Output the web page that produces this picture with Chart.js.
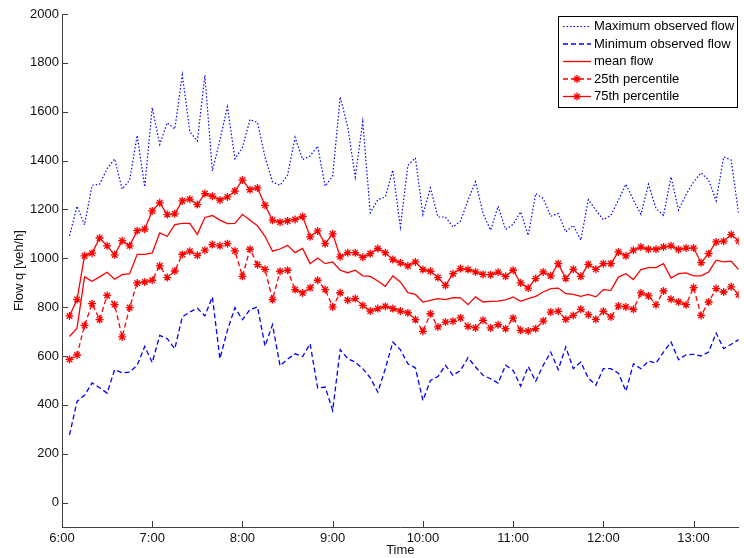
<!DOCTYPE html>
<html>
<head>
<meta charset="utf-8">
<script src="https://cdn.jsdelivr.net/npm/chart.js@4/dist/chart.umd.min.js"></script>
<style>
  html, body { margin: 0; background: #fff; }
  #wrap { width: 744px; height: 558px; }
</style>
</head>
<body>
<div id="wrap"><canvas id="c" width="744" height="558"></canvas></div>
<script>
// 5-minute intervals
const times = [
  '6:05','6:10','6:15','6:20','6:25','6:30','6:35','6:40','6:45','6:50','6:55','7:00',
  '7:05','7:10','7:15','7:20','7:25','7:30','7:35','7:40','7:45','7:50','7:55','8:00',
  '8:05','8:10','8:15','8:20','8:25','8:30','8:35','8:40','8:45','8:50','8:55','9:00',
  '9:05','9:10','9:15','9:20','9:25','9:30','9:35','9:40','9:45','9:50','9:55','10:00',
  '10:05','10:10','10:15','10:20','10:25','10:30','10:35','10:40','10:45','10:50','10:55','11:00',
  '11:05','11:10','11:15','11:20','11:25','11:30','11:35','11:40','11:45','11:50','11:55','12:00',
  '12:05','12:10','12:15','12:20','12:25','12:30','12:35','12:40','12:45','12:50','12:55','13:00',
  '13:05','13:10','13:15','13:20','13:25','13:30'
];

const maxFlow = [
  1092,1213,1137,1299,1303,1367,1407,1283,1320,1503,1292,1617,1466,1555,1529,1751,1518,1480,1749,1357,1484,1620,1407,1454,1568,1556,1415,1313,1299,1340,
  1495,1404,1419,1459,1295,1337,1661,1538,1333,1559,1186,1240,1251,1361,1128,1380,1411,1179,1288,1169,1169,1128,1152,1238,1313,1183,1115,1213,1118,
  1139,1190,1094,1265,1245,1172,1183,1108,1135,1074,1240,1197,1158,1176,1238,1303,1238,1180,1303,1204,1176,1333,1197,1261,1313,1350,1320,1235,1415,1402,1180
];
const minFlow = [
  277,414,439,490,470,448,544,531,534,562,639,573,684,671,630,760,780,796,764,842,589,705,798,749,790,801,641,728,560,587,
  609,598,650,469,473,377,626,589,575,548,511,452,548,657,626,568,551,418,500,516,562,521,541,593,555,521,507,489,562,
  541,477,557,497,562,616,544,637,548,575,510,480,548,548,530,456,568,548,579,571,616,657,585,605,607,600,616,694,630,648,667
];
const meanFlow = [
  680,714,924,906,924,943,914,933,937,1016,1016,1022,1104,1090,1138,1143,1143,1098,1167,1175,1156,1142,1143,1180,1156,1133,1090,1029,1038,1053,
  1023,1040,978,1001,978,985,951,941,951,928,926,907,885,928,903,859,852,821,828,835,831,839,838,810,842,821,824,825,830,
  842,824,835,844,862,876,878,855,852,844,852,842,872,869,923,937,913,954,962,962,978,919,937,940,928,928,944,992,985,988,954
];
const p25 = [
  586,604,725,814,749,848,810,678,798,899,903,910,969,921,948,1016,1029,1012,1033,1056,1051,1060,1030,926,1037,974,955,831,947,951,
  872,858,879,910,872,801,859,828,835,807,784,794,803,794,784,777,749,701,773,719,739,742,756,721,715,746,715,728,712,
  755,705,702,712,743,780,783,750,766,791,769,750,783,760,805,801,791,858,846,810,866,832,821,810,880,766,821,876,862,883,851
];
const p75 = [
  764,831,1010,1021,1083,1051,1014,1072,1051,1113,1119,1194,1227,1179,1182,1235,1242,1220,1265,1254,1238,1251,1275,1320,1281,1288,1217,1156,1148,1153,
  1159,1171,1088,1112,1060,1100,1006,1023,1023,1004,1019,1040,1023,995,982,969,985,954,947,921,889,937,958,954,944,934,933,943,926,
  951,899,878,917,944,928,978,917,955,926,975,955,978,978,1026,1010,1033,1046,1037,1037,1046,1051,1036,1042,1042,982,1019,1067,1070,1097,1071
];

const xTicks = ['6:00','7:00','8:00','9:00','10:00','11:00','12:00','13:00'];
const yTicks = [0,200,400,600,800,1000,1200,1400,1600,1800,2000];

const FONT = "'Liberation Sans', Arial, sans-serif";
const AXIS = '#404040';

// minutes since 6:00
const toMin = t => { const [h, m] = t.split(':').map(Number); return (h - 6) * 60 + m; };
const pts = arr => arr.map((v, i) => ({ x: toMin(times[i]), y: v }));

const inwardTicks = {
  id: 'inwardTicks',
  afterDraw(chart) {
    const { ctx, chartArea: a, scales: { x, y } } = chart;
    ctx.save();
    ctx.strokeStyle = AXIS;
    ctx.lineWidth = 1;
    ctx.beginPath();
    y.ticks.forEach(t => {
      const py = Math.round(y.getPixelForValue(t.value)) + 0.5;
      ctx.moveTo(a.left, py); ctx.lineTo(a.left + 6, py);
    });
    x.ticks.forEach(t => {
      const px = Math.round(x.getPixelForValue(t.value)) + 0.5;
      ctx.moveTo(px, a.bottom); ctx.lineTo(px, a.bottom - 6);
    });
    ctx.stroke();
    ctx.restore();
  }
};

// matlab-style boxed legend in the top right corner
const boxLegend = {
  id: 'boxLegend',
  afterDraw(chart) {
    const ctx = chart.ctx;
    const bx = 558, by = 16, bw = 179, bh = 91, row = 17.5;
    ctx.save();
    ctx.fillStyle = '#fff';
    ctx.fillRect(bx, by, bw, bh);
    ctx.strokeStyle = '#000';
    ctx.lineWidth = 1;
    ctx.strokeRect(bx + 0.5, by + 0.5, bw, bh);
    ctx.font = '13px ' + FONT;
    ctx.textBaseline = 'middle';
    chart.data.datasets.forEach((ds, i) => {
      const cy = by + 10.5 + i * row;
      ctx.strokeStyle = ds.borderColor;
      ctx.lineWidth = ds.borderWidth;
      ctx.setLineDash(ds.borderDash || []);
      ctx.beginPath();
      ctx.moveTo(bx + 5, cy); ctx.lineTo(bx + 33, cy);
      ctx.stroke();
      ctx.setLineDash([]);
      if (ds.pointRadius > 0) {
        ctx.fillStyle = ds.borderColor;
        ctx.lineWidth = ds.pointBorderWidth;
        Chart.helpers.drawPoint(ctx, { pointStyle: ds.pointStyle, radius: ds.pointRadius, borderWidth: ds.pointBorderWidth, rotation: 0 }, bx + 19, cy);
      }
      ctx.fillStyle = '#000';
      ctx.fillText(ds.label, bx + 36, cy);
    });
    ctx.restore();
  }
};

new Chart(document.getElementById('c'), {
  type: 'line',
  data: {
    datasets: [
      { label: 'Maximum observed flow', data: pts(maxFlow), borderColor: '#0000ff', borderWidth: 1.2, borderDash: [1.5, 2], pointRadius: 0 },
      { label: 'Minimum observed flow', data: pts(minFlow), borderColor: '#0000ff', borderWidth: 1.3, borderDash: [5, 3], pointRadius: 0 },
      { label: 'mean flow', data: pts(meanFlow), borderColor: '#ff0000', borderWidth: 1.3, pointRadius: 0 },
      { label: '25th percentile', data: pts(p25), borderColor: '#ff0000', borderWidth: 1.3, borderDash: [5, 3],
        pointStyle: 'star', pointRadius: 4, pointBorderWidth: 1.3, pointBorderColor: '#ff0000', pointBackgroundColor: '#ff0000' },
      { label: '75th percentile', data: pts(p75), borderColor: '#ff0000', borderWidth: 1.3,
        pointStyle: 'star', pointRadius: 4, pointBorderWidth: 1.3, pointBorderColor: '#ff0000', pointBackgroundColor: '#ff0000' }
    ]
  },
  options: {
    responsive: false,
    animation: false,
    devicePixelRatio: 1,
    layout: { padding: { top: 14, right: 3, left: 0, bottom: 0 } },
    elements: { line: { tension: 0 } },
    plugins: { legend: { display: false }, tooltip: { enabled: false } },
    scales: {
      x: {
        type: 'linear', min: 0, max: 450,
        afterBuildTicks: s => { s.ticks = xTicks.map(t => ({ value: toMin(t) })); },
        afterFit: s => { s.height = 31; },
        ticks: {
          padding: 4, color: '#111', font: { family: FONT, size: 13 },
          callback: v => xTicks.find(t => toMin(t) === v)
        },
        grid: { display: false, drawTicks: false },
        border: { display: true, color: AXIS, width: 1 },
        title: { display: true, text: 'Time', color: '#111', font: { family: FONT, size: 13 }, padding: 0 }
      },
      y: {
        min: -100, max: 2000,
        afterBuildTicks: s => { s.ticks = yTicks.map(v => ({ value: v })); },
        afterFit: s => { s.width = 62; },
        ticks: { padding: 3, color: '#111', font: { family: FONT, size: 13 }, callback: v => String(v) },
        grid: { display: false, drawTicks: false },
        border: { display: true, color: AXIS, width: 1 },
        title: { display: true, text: 'Flow q [veh/h]', color: '#111', font: { family: FONT, size: 13 }, padding: { top: 12, bottom: 0 } }
      }
    }
  },
  plugins: [inwardTicks, boxLegend]
});
</script>
</body>
</html>
